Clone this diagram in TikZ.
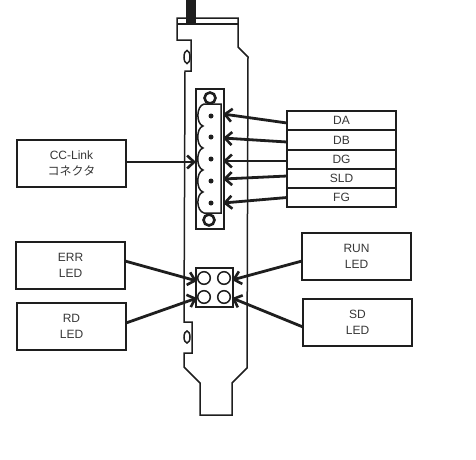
\documentclass[tikz,border=0pt]{standalone}
\usepackage{fontspec}
\setmainfont{Liberation Sans}
\newfontfamily\jpfont{Noto Sans CJK JP}
\usepackage{xcolor}
\usetikzlibrary{arrows.meta}
\definecolor{tinta}{RGB}{30,30,30}
\definecolor{letra}{RGB}{55,55,55}

\begin{document}
\begin{tikzpicture}[
  x=1pt, y=-1pt,
  caption/.style={draw=tinta, line width=1.6pt, rectangle, align=center, inner sep=0pt, outer sep=0pt,
    minimum width=109pt, minimum height=47pt, text=letra, font=\fontsize{12}{16}\selectfont},
  signal/.style={caption, minimum height=19.2pt},
  flecha/.style={draw=tinta, line width=2.8pt, -{Straight Barb[length=7pt,width=13pt,line width=2.6pt]}},
  plate/.style={draw=tinta, line width=1.5pt, line join=miter},
  hole/.style={draw=tinta, line width=1.5pt}
]
\useasboundingbox (0,0) rectangle (476,459);

% bracket
\draw[plate] (177,18) -- (238,18) -- (238,47) -- (248,57) -- (247,368) -- (232,383) -- (232,415)
  -- (200,415) -- (200,383) -- (184,367) -- (184,353) -- (192,353) -- (192,322) -- (184,322)
  -- (185,71) -- (191,71) -- (191,40) -- (177,40) -- cycle;
\draw[plate] (177,24) -- (238,24);
\fill[tinta] (186,0) rectangle (196,24);
\draw[hole] (187,57) ellipse (3pt and 6.5pt);
\draw[hole] (187,337) ellipse (3pt and 6pt);

% terminal block
\node[draw=tinta, line width=1.5pt, fill=white, inner sep=0pt, minimum width=28pt, minimum height=140pt] (block) at (210,159) {};
\draw[tinta, line width=1.5pt] (221,104) -- (204,104)
  .. controls (196,106) and (196,124) .. (203,126)
  .. controls (196,128) and (196,146) .. (203,148)
  .. controls (196,150) and (196,168) .. (203,170)
  .. controls (196,172) and (196,190) .. (203,192)
  .. controls (196,194) and (196,211) .. (204,213)
  -- (221,213) -- cycle;
\draw[tinta, line width=2.6pt] (210,98) circle (5.5pt);
\draw[tinta, line width=2.6pt] (209,220) circle (5.5pt);
\foreach \py in {116,137,159,181,203}
  \fill[tinta] (211,\py) circle (2.5pt);

% led window
\node[draw=tinta, line width=1.6pt, fill=white, inner sep=0pt, minimum width=37pt, minimum height=39pt] (window) at (214.5,287.5) {};
\foreach \px in {204,224}
  \foreach \py in {278,297}
    \draw[hole] (\px,\py) circle (6.3pt);

% captions
\node[caption] (cclink) at (71.5,163.5) {CC-Link\\{\jpfont コネクタ}};
\node[caption] (err)    at (70.5,265.5) {ERR\\LED};
\node[caption] (rd)     at (71.5,326.5) {RD\\LED};
\node[caption] (run)    at (356.5,256.5) {RUN\\LED};
\node[caption] (sd)     at (357.5,322.5) {SD\\LED};
\node[signal] (da)      at (341.5,120.5) {DA};
\node[signal] (db)      at (341.5,140)   {DB};
\node[signal] (dg)      at (341.5,159.5) {DG};
\node[signal] (sld)     at (341.5,178.5) {SLD};
\node[signal] (fg)      at (341.5,197.5) {FG};

\coordinate (tipda)  at (223,114);
\coordinate (tipdb)  at (223,138);
\coordinate (tipdg)  at (223,161);
\coordinate (tipsld) at (223,179);
\coordinate (tipfg)  at (223,203);
\coordinate (tipcc)  at (196,162);
\coordinate (tiperr) at (197,281);
\coordinate (tiprd)  at (197,298);
\coordinate (tiprun) at (232,280);
\coordinate (tipsd)  at (232,298);

\draw[flecha] ([yshift=-2.5pt]da.west) -- (tipda);
\draw[flecha] ([yshift=-2pt]db.west) -- (tipdb);
\draw[flecha] ([yshift=-1.5pt]dg.west) -- (tipdg);
\draw[flecha] ([yshift=2.5pt]sld.west) -- (tipsld);
\draw[flecha] (fg.west) -- (tipfg);
\draw[flecha] ([yshift=1.5pt]cclink.east) -- (tipcc);
\draw[flecha] ([yshift=4.5pt]err.east) -- (tiperr);
\draw[flecha] ([yshift=3.5pt]rd.east) -- (tiprd);
\draw[flecha] ([yshift=-4.5pt]run.west) -- (tiprun);
\draw[flecha] ([yshift=-4.5pt]sd.west) -- (tipsd);
\end{tikzpicture}
\end{document}
